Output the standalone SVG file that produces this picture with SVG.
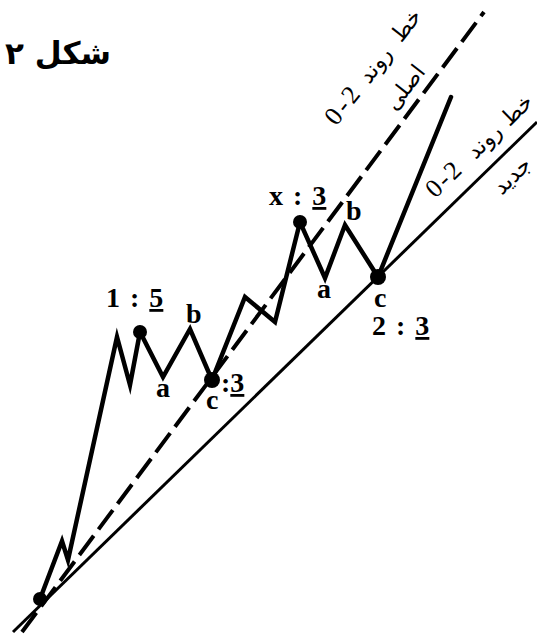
<svg xmlns="http://www.w3.org/2000/svg" width="537" height="635" viewBox="0 0 537 635">
<style>
.w{fill:none;stroke:#000;stroke-width:4.5;stroke-linejoin:miter;stroke-miterlimit:10;stroke-linecap:round}
.d{fill:none;stroke:#000;stroke-width:4;stroke-dasharray:24 8}
.s{fill:none;stroke:#000;stroke-width:3}
circle{fill:#000}
.lb{font-family:"Liberation Serif","Times New Roman",serif;font-weight:bold;font-size:28px;fill:#000}
.ar{font-family:"DejaVu Sans",sans-serif;font-size:22px;fill:#000;text-anchor:middle}
.num{font-family:"Liberation Serif","Times New Roman",serif;font-size:26px;fill:#000;text-anchor:middle}
.u{text-decoration:underline}
</style>
<defs>
<path id="b1" d="M327,138.7 L437.9,-3.2"/>
<path id="b1b" d="M356.6,161.3 L467.5,19.4"/>
<path id="b2" d="M426.2,207.7 L555.6,82.6"/>
<path id="b2b" d="M456.7,239.3 L586.1,114.2"/>
</defs>
<rect width="537" height="635" fill="#fff"/>
<g id="title">
<text x="58" y="64" text-anchor="middle" style="font-family:'DejaVu Sans',sans-serif;font-weight:bold;font-size:31px">شکل ۲</text>
</g>
<g id="connectors">
<path class="d" d="M22,632 L484,12"/>
<path class="s" d="M13,632 L537,122"/>
<path class="w" d="M40,599 L62,541 L68,560 L117,337 L130,385 L140,332 L163,377 L190,329 L212,380 L245,297 L275,322 L300,222 L325,278 L345,225 L378,277 L451,97"/>
</g>
<g id="p0"><circle cx="40" cy="599" r="7"/></g>
<g id="p1">
<circle cx="140" cy="332" r="7"/>
<text class="lb" x="106" y="307" word-spacing="3">1 : <tspan class="u">5</tspan></text>
<text class="lb" x="186" y="323">b</text>
<text class="lb" x="156" y="397">a</text>
</g>
<g id="pc">
<circle cx="212" cy="380" r="8"/>
<text class="lb" x="206" y="409">c</text>
<text class="lb" x="221" y="392">:<tspan class="u">3</tspan></text>
</g>
<g id="px">
<circle cx="300" cy="222" r="7"/>
<text class="lb" x="269" y="205" word-spacing="3">x : <tspan class="u">3</tspan></text>
<text class="lb" x="346" y="220">b</text>
<text class="lb" x="317" y="298">a</text>
</g>
<g id="p2">
<circle cx="378" cy="277" r="8"/>
<text class="lb" x="374" y="307">c</text>
<text class="lb" x="372" y="335" word-spacing="3">2 : <tspan class="u">3</tspan></text>
</g>
<g id="label1">
<text class="num" letter-spacing="3"><textPath href="#b1" startOffset="37">0-2</textPath></text>
<text class="ar"><textPath href="#b1" startOffset="88">روند</textPath></text>
<text class="ar"><textPath href="#b1" startOffset="138">خط</textPath></text>
<text class="ar"><textPath href="#b1b" startOffset="88">اصلی</textPath></text>
</g>
<g id="label2">
<text class="num" letter-spacing="2"><textPath href="#b2" startOffset="33">0-2</textPath></text>
<text class="ar"><textPath href="#b2" startOffset="88">روند</textPath></text>
<text class="ar"><textPath href="#b2" startOffset="133">خط</textPath></text>
<text class="ar"><textPath href="#b2b" startOffset="84">جدید</textPath></text>
</g>
</svg>
